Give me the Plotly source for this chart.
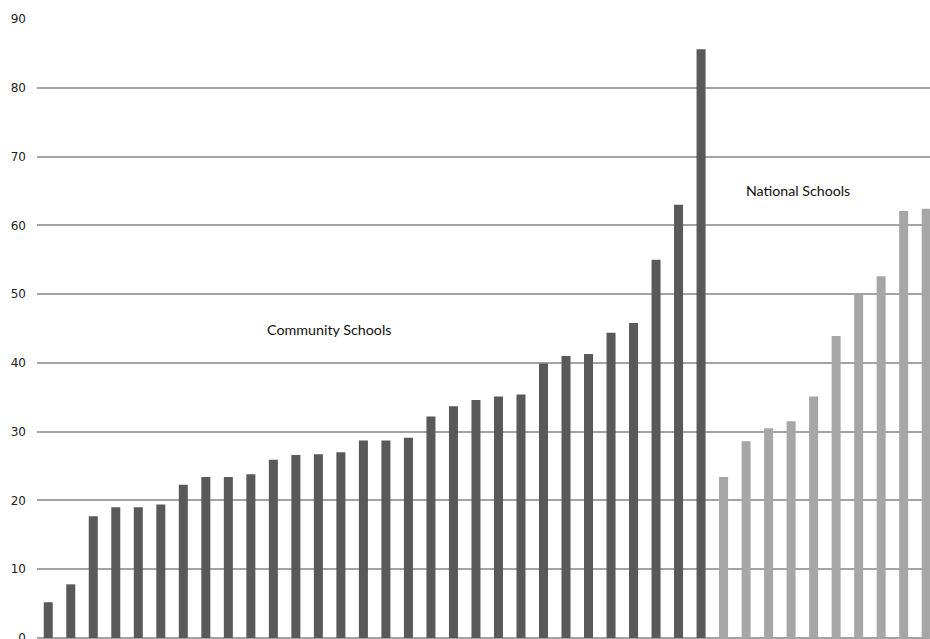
import plotly.graph_objects as go

# Values
community_values = [5.2, 7.8, 17.7, 19.0, 19.0, 19.4, 22.3, 23.4, 23.4, 23.8,
                    25.9, 26.6, 26.7, 27.0, 28.7, 28.7, 29.1, 32.2, 33.7, 34.6,
                    35.1, 35.4, 39.9, 41.0, 41.3, 44.4, 45.8, 55.0, 63.0, 85.6]
national_values = [23.4, 28.6, 30.5, 31.5, 35.1, 43.9, 50.0, 52.6, 62.1, 62.4]

community_labels = [f"Community {i + 1}" for i in range(len(community_values))]
national_labels = [f"National {i + 1}" for i in range(len(national_values))]

y_ticks = [0, 10, 20, 30, 40, 50, 60, 70, 80, 90]

group_labels = ["Community Schools", "National Schools"]

fig = go.Figure()
fig.add_trace(go.Bar(x=community_labels, y=community_values,
                     marker=dict(color="#595959", line=dict(width=0)),
                     width=0.4, name=group_labels[0]))
fig.add_trace(go.Bar(x=national_labels, y=national_values,
                     marker=dict(color="#a6a6a6", line=dict(width=0)),
                     width=0.4, name=group_labels[1]))

fig.update_layout(
    width=930, height=639,
    margin=dict(l=37, r=0, t=19, b=1, autoexpand=False),
    paper_bgcolor="white", plot_bgcolor="white",
    barmode="overlay",
    showlegend=False,
    xaxis=dict(type="category", categoryorder="array",
               categoryarray=community_labels + national_labels,
               range=[-0.5, 39.17], showticklabels=False, showgrid=False,
               zeroline=False, showline=False, ticks="", automargin=False),
    yaxis=dict(range=[0, 90], tickvals=y_ticks, showgrid=True,
               gridcolor="#a3a3a3", gridwidth=1.6, zeroline=True,
               zerolinecolor="#a3a3a3", zerolinewidth=1.6,
               showline=False, ticks="", ticklabelstandoff=10,
               ticklabeloverflow="allow", automargin=False,
               tickfont=dict(family="DejaVu Sans", size=12, color="#222222")),
    annotations=[
        dict(text=group_labels[0], xref="paper", yref="y", x=0.327, y=44.8,
             xanchor="center", yanchor="middle",
             showarrow=False, font=dict(family="Lato", size=14.3, color="#111111")),
        dict(text=group_labels[1], xref="paper", yref="y", x=0.852, y=65.1,
             xanchor="center", yanchor="middle",
             showarrow=False, font=dict(family="Lato", size=14.2, color="#111111")),
    ],
)

fig.write_html("out.html")
